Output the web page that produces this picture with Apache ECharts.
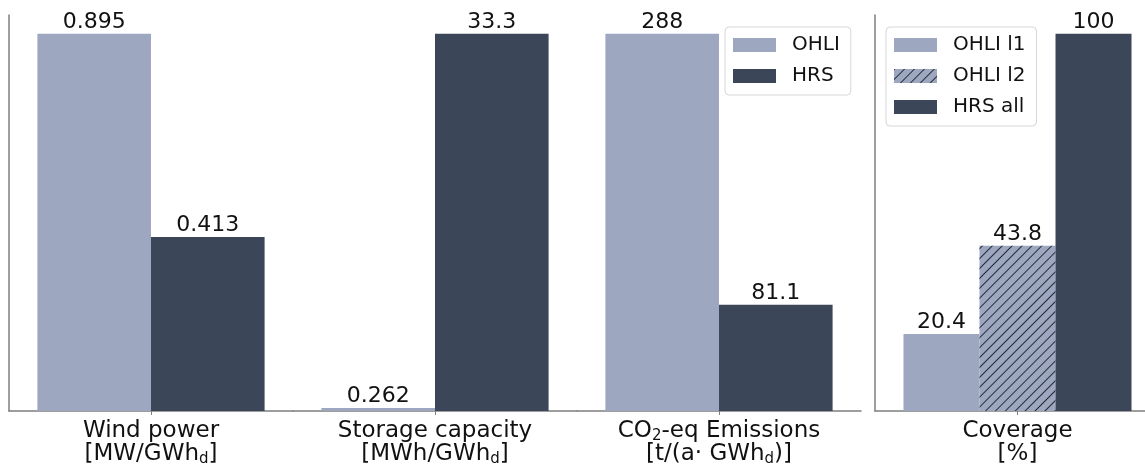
<!DOCTYPE html>
<html>
<head>
<meta charset="utf-8">
<script src="https://cdn.jsdelivr.net/npm/echarts@6/dist/echarts.min.js"></script>
<style>
  html, body { margin: 0; padding: 0; background: #fff; overflow: hidden; }
  /* the coverage axis runs a little past the right edge of the window */
  #chart { width: 1160px; height: 470px; }
</style>
</head>
<body>
<div id="chart"></div>
<script>
// Per-metric comparison of overhead-line (OHLI) and hydrogen refuelling (HRS) systems
const metrics = [
  '{a|Wind power}\n{a|[MW/GWh}{s|d}{a|]}',
  '{a|Storage capacity}\n{a|[MWh/GWh}{s|d}{a|]}',
  '{a|CO}{s|2}{a|-eq Emissions}\n{a|[t/(a· GWh}{s|d}{a|)]}'
];
const ohliValues = [0.895, 0.262, 288];
const hrsValues = [0.413, 33.3, 81.1];

// Coverage panel
const coverageCategory = ['{a|Coverage}\n{a|[%]}'];
const coverageNames = ['OHLI l1', 'OHLI l2', 'HRS all'];
const coverageValues = [20.4, 43.8, 100];

const LIGHT = '#9da7bf';
const DARK = '#3c4659';
const AXIS = '#7f7f7f';
const FONT = 'DejaVu Sans';

const richText = {
  a: { fontFamily: FONT, fontSize: 23, color: '#111', lineHeight: 23 },
  s: { fontFamily: FONT, fontSize: 15, color: '#111', lineHeight: 23, padding: [10, 0, 0, 0] }
};

const TOP = 15, BOTTOM = 59;
const leftStart = 9, leftEnd = 861;
const bandW = (leftEnd - leftStart) / metrics.length;

const grid = [], xAxis = [], yAxis = [], series = [];

function valueLabel() {
  return {
    show: true, position: 'top', distance: 1,
    fontFamily: FONT, fontSize: 22, color: '#111',
    formatter: p => String(p.value)
  };
}

function categoryAxis(idx, data) {
  return {
    type: 'category', gridIndex: idx, data: data,
    axisLine: { show: true, lineStyle: { color: AXIS, width: 1.5 } },
    axisTick: { show: true, alignWithLabel: true, length: 4, lineStyle: { color: AXIS } },
    axisLabel: { interval: 0, margin: 9, rich: richText }
  };
}

metrics.forEach((m, i) => {
  grid.push({ left: leftStart + i * bandW, width: bandW, top: TOP, bottom: BOTTOM });
  xAxis.push(categoryAxis(i, [m]));
  yAxis.push({
    type: 'value', gridIndex: i, min: 0,
    max: Math.max(ohliValues[i], hrsValues[i]) * 1.05,
    axisLine: { show: i === 0, lineStyle: { color: AXIS, width: 1.5 } },
    axisTick: { show: false }, axisLabel: { show: false }, splitLine: { show: false }
  });
  series.push({
    name: 'OHLI', type: 'bar', xAxisIndex: i, yAxisIndex: i,
    data: [ohliValues[i]], barWidth: '40%', barGap: '0%',
    itemStyle: { color: LIGHT }, label: valueLabel()
  });
  series.push({
    name: 'HRS', type: 'bar', xAxisIndex: i, yAxisIndex: i,
    data: [hrsValues[i]], barWidth: '40%', barGap: '0%',
    itemStyle: { color: DARK }, label: valueLabel()
  });
});

// Coverage grid
const ci = metrics.length;
grid.push({ left: 875, width: 285, top: TOP, bottom: BOTTOM });
xAxis.push(categoryAxis(ci, coverageCategory));
yAxis.push({
  type: 'value', gridIndex: ci, min: 0, max: 105,
  axisLine: { show: true, lineStyle: { color: AXIS, width: 1.5 } },
  axisTick: { show: false }, axisLabel: { show: false }, splitLine: { show: false }
});
const coverageStyles = [
  { color: LIGHT },
  { color: LIGHT, decal: { symbol: 'rect', symbolSize: 1, dashArrayX: [1, 0], dashArrayY: [1, 6], rotation: -Math.PI / 4, color: '#232a36' } },
  { color: DARK }
];
coverageNames.forEach((n, k) => {
  series.push({
    name: n, type: 'bar', xAxisIndex: ci, yAxisIndex: ci,
    data: [coverageValues[k]], barWidth: '26.67%', barGap: '0%',
    itemStyle: coverageStyles[k], label: valueLabel()
  });
});

const legendBase = {
  orient: 'vertical', itemWidth: 43, itemHeight: 14, itemGap: 11,
  borderColor: '#d6d6d6', borderWidth: 1, borderRadius: 4,
  backgroundColor: '#fff',
  icon: 'rect',
  padding: [8, 11, 9, 8],
  textStyle: { fontFamily: FONT, fontSize: 20, lineHeight: 20, color: '#111', padding: [0, 0, 0, 11] }
};

const chart = echarts.init(document.getElementById('chart'), null, { renderer: 'canvas' });
chart.setOption({
  backgroundColor: '#fff',
  animation: false,
  grid, xAxis, yAxis, series,
  legend: [
    Object.assign({}, legendBase, { data: ['OHLI', 'HRS'], left: 725, top: 27 }),
    Object.assign({}, legendBase, { data: coverageNames, left: 886, top: 27 })
  ]
});
</script>
</body>
</html>
